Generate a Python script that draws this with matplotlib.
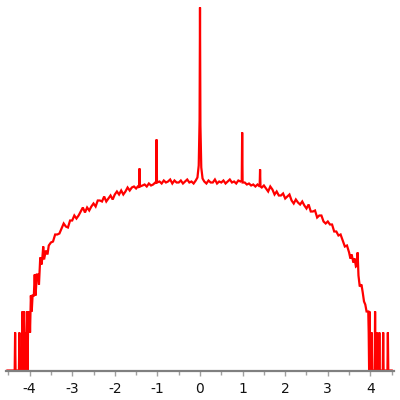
import matplotlib
matplotlib.use("Agg")
import matplotlib.pyplot as plt
from matplotlib.ticker import MultipleLocator

# Values (x position, curve height in arbitrary units)
left_edge_x = [-4.52, -4.35, -4.34, -4.33, -4.25, -4.24, -4.23, -4.18, -4.17, -4.16,
               -4.13, -4.12, -4.10, -4.09, -4.06, -4.05, -4.03, -4.02, -4.00, -3.99,
               -3.97, -3.95, -3.93, -3.90, -3.88, -3.86, -3.83, -3.80, -3.78, -3.75,
               -3.72, -3.70, -3.68, -3.66, -3.62, -3.58, -3.55]
left_edge_h = [0, 0, 38, 0, 0, 38, 0, 0, 59, 0,
               59, 0, 38, 0, 59, 0, 59, 38, 59, 38,
               75, 59, 75, 75, 96, 75, 96, 96, 86, 113,
               106, 113, 124, 111, 120, 116, 125]

middle_x = [-3.50, -3.45, -3.40, -3.35, -3.30, -3.25, -3.20, -3.15, -3.10, -3.05,
            -3.00, -2.95, -2.90, -2.85, -2.80, -2.75, -2.70, -2.65, -2.60, -2.55,
            -2.50, -2.45, -2.40, -2.35, -2.30, -2.25, -2.20, -2.15, -2.10, -2.05,
            -2.00, -1.95, -1.90, -1.85, -1.80, -1.75, -1.70, -1.65, -1.60, -1.55,
            -1.50, -1.46, -1.43, -1.42, -1.41, -1.35, -1.30, -1.25, -1.20, -1.15,
            -1.10, -1.05, -1.03, -1.02, -1.01, -0.95, -0.90, -0.85, -0.80, -0.75,
            -0.70, -0.65, -0.60, -0.55, -0.50, -0.45, -0.40, -0.35, -0.30, -0.25,
            -0.20, -0.15, -0.10, -0.06, -0.03, -0.01, 0.00, 0.01, 0.03, 0.06,
            0.10, 0.15, 0.20, 0.25, 0.30, 0.35, 0.40, 0.45, 0.50, 0.55,
            0.60, 0.65, 0.70, 0.75, 0.80, 0.85, 0.90, 0.95, 0.98, 0.99,
            1.00, 1.05, 1.10, 1.15, 1.20, 1.25, 1.30, 1.35, 1.40, 1.41,
            1.42, 1.45, 1.50, 1.55, 1.60, 1.65, 1.70, 1.75, 1.80, 1.85,
            1.90, 1.95, 2.00, 2.05, 2.10, 2.15, 2.20, 2.25, 2.30, 2.35,
            2.40, 2.45, 2.50, 2.55, 2.60, 2.65, 2.70, 2.75, 2.80, 2.85,
            2.90, 2.95, 3.00, 3.05, 3.10, 3.15, 3.20, 3.25, 3.30, 3.35,
            3.40, 3.45]
middle_h = [128, 129, 136, 136, 137, 142, 147, 144, 143, 150,
            150, 155, 152, 155, 159, 163, 158, 163, 160, 164,
            167, 164, 170, 170, 169, 174, 169, 172, 175, 171,
            176, 179, 176, 180, 176, 179, 183, 180, 183, 184,
            182, 184, 183, 202, 184, 185, 186, 184, 187, 185,
            186, 188, 187, 231, 188, 189, 187, 190, 188, 189,
            191, 187, 190, 188, 188, 190, 187, 189, 191, 188,
            189, 187, 190, 193, 205, 250, 363, 245, 203, 192,
            189, 187, 190, 188, 188, 191, 187, 189, 188, 190,
            187, 189, 191, 188, 189, 187, 190, 189, 190, 238,
            188, 188, 186, 187, 185, 186, 184, 186, 184, 201,
            184, 183, 185, 182, 179, 184, 181, 176, 179, 175,
            175, 177, 172, 174, 176, 170, 167, 171, 168, 166,
            169, 165, 162, 166, 159, 159, 160, 153, 155, 155,
            149, 147, 149, 146, 146, 139, 139, 135, 136, 130,
            124, 125]

right_edge_x = [3.50, 3.53, 3.56, 3.60, 3.63, 3.66, 3.69, 3.70, 3.72, 3.75,
                3.79, 3.82, 3.85, 3.88, 3.91, 3.95, 3.96, 3.97, 3.98, 3.99,
                4.00, 4.01, 4.03, 4.04, 4.10, 4.11, 4.12, 4.14, 4.15, 4.16,
                4.20, 4.21, 4.22, 4.29, 4.30, 4.31, 4.40, 4.41, 4.42, 4.50]
right_edge_h = [118, 112, 116, 108, 112, 104, 105, 118, 95, 84,
                86, 78, 69, 66, 59, 59, 38, 0, 59, 0,
                38, 0, 38, 0, 0, 59, 0, 0, 38, 0,
                0, 38, 0, 0, 38, 0, 0, 38, 0, 0]

tick_values = [-4, -3, -2, -1, 0, 1, 2, 3, 4]

x = left_edge_x + middle_x + right_edge_x
h = left_edge_h + middle_h + right_edge_h

fig = plt.figure(figsize=(4, 4), dpi=100)
ax = fig.add_axes([6 / 400, 29.5 / 400, 388 / 400, 370.5 / 400])
ax.plot(x, h, color="#ff0000", linewidth=1.6, solid_joinstyle="miter")

ax.set_xlim(-4.554, 4.554)
ax.set_ylim(0, 370.5)
for s in ["top", "right", "left"]:
    ax.spines[s].set_visible(False)
ax.spines["bottom"].set_color("#808080")
ax.spines["bottom"].set_linewidth(1.6)
ax.set_yticks([])
ax.set_xticks(tick_values)
ax.set_xticklabels([str(t) if t >= 0 else "-" + str(-t) for t in tick_values])
ax.xaxis.set_minor_locator(MultipleLocator(0.5))
ax.tick_params(axis="x", which="major", direction="out", length=3.5, width=1,
               color="#a0a0a0", labelsize=10, pad=5, labelcolor="#111111")
ax.tick_params(axis="x", which="minor", direction="out", length=3, width=1,
               color="#a0a0a0")
ax.patch.set_alpha(0)
fig.savefig("out.png", dpi=100, facecolor="white")
